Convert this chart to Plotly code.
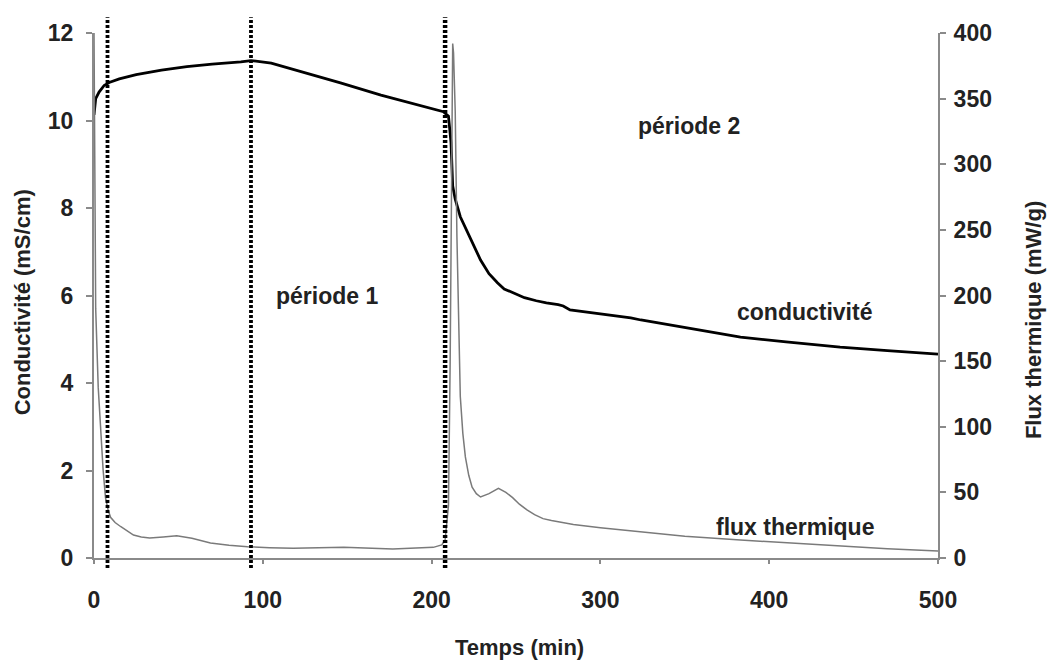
import plotly.graph_objects as go

# ---- data ----
t_cond = [0, 1, 3, 6, 9, 15, 25, 40, 55, 70, 87, 93, 105, 122, 146, 170, 193, 207,
          210, 211.5, 212.5, 214, 217, 220, 223, 226, 229, 234, 239, 243, 248, 255, 262,
          268, 275, 278, 282, 290, 300, 318, 324, 350, 383, 410, 442, 470, 500]
conductivite = [10.13, 10.5, 10.65, 10.8, 10.87, 10.95, 11.05, 11.15, 11.23, 11.29,
                11.34, 11.37, 11.31, 11.13, 10.86, 10.58, 10.35, 10.2,
                10.1, 9.5, 8.5, 8.2, 7.8, 7.55, 7.34, 7.08, 6.81, 6.5, 6.29, 6.15, 6.06,
                5.95, 5.88, 5.83, 5.79, 5.76, 5.67, 5.63, 5.58, 5.49, 5.44, 5.27, 5.05,
                4.94, 4.82, 4.74, 4.66]

t_flux = [0, 0.5, 1, 2.5, 3.8, 5.4, 6.8, 8.3, 9.8, 12.5, 15.7, 19.5, 23.4, 28, 33, 41,
          49, 58, 69, 80, 91, 104, 118, 148, 177, 201, 206, 208, 210, 211, 212, 212.5,
          213, 214, 215, 216, 217, 218.5, 220, 222, 224, 226.5, 229, 234, 239.6, 244,
          248, 252, 256.5, 261, 266, 271, 276, 284, 300, 324, 350, 383, 410, 442, 470, 501]
flux = [400, 300, 190, 130, 97.5, 67, 46, 37, 31, 27, 24, 20.5, 17.5, 16, 15.2, 16,
        17, 15, 11.4, 9.8, 8.6, 7.9, 7.4, 8.1, 6.9, 8.1, 10, 13.7, 40, 150, 330, 392,
        385, 340, 245, 170, 123, 95, 77, 63, 54, 49, 46.5, 49, 53, 50,
        46, 41, 36.6, 33, 30, 28.5, 27.4, 25.5, 23, 19.8, 16.5, 13.7, 11.5, 9.1, 7, 5.3]

x_ticks = [0, 100, 200, 300, 400, 500]
y_ticks = [0, 2, 4, 6, 8, 10, 12]
y2_ticks = [0, 50, 100, 150, 200, 250, 300, 350, 400]

vlines = [8, 93, 208]

labels_text = ["(a)", "(b)", "(c)", "période 1", "période 2", "conductivité", "flux thermique"]
labels_t = [2.7, 42.3, 151.9, 138, 352.6, 421, 415]
labels_y = [12.34, 12.34, 12.34, 5.99, 9.87, 5.63, 0.72]

FONT = "Arial, Liberation Sans, sans-serif"
TXT = "#222222"
AXC = "#8a8a8a"

fig = go.Figure()
fig.add_trace(go.Scatter(x=t_flux, y=flux, mode="lines", yaxis="y2",
                         line=dict(color="#7a7a7a", width=1.5), name="flux thermique",
                         showlegend=False))
fig.add_trace(go.Scatter(x=t_cond, y=conductivite, mode="lines", yaxis="y",
                         line=dict(color="#000000", width=2.8), name="conductivité",
                         showlegend=False))

for i, v in enumerate(vlines):
    fig.add_shape(type="line", xref="x", yref="paper", x0=v, x1=v, y0=-0.019, y1=1.03,
                  line=dict(color="black", width=4.5 if i == 2 else 3.8, dash="3px,2px"))

for txt, tx, ty in zip(labels_text, labels_t, labels_y):
    fig.add_annotation(x=tx, y=ty, xref="x", yref="y", text=txt, showarrow=False,
                       xanchor="center", yanchor="middle",
                       font=dict(family=FONT, size=23, color=TXT, weight="bold"))

# axis titles
fig.add_annotation(x=0.504, y=-0.171, xref="paper", yref="paper", text="Temps (min)",
                   showarrow=False, xanchor="center", yanchor="middle",
                   font=dict(family=FONT, size=22, color=TXT, weight="bold"))
fig.add_annotation(x=-0.0847, y=0.486, xref="paper", yref="paper",
                   text="Conductivité (mS/cm)", textangle=-90, showarrow=False,
                   xanchor="center", yanchor="middle",
                   font=dict(family=FONT, size=22, color=TXT, weight="bold"))
fig.add_annotation(x=1.1125, y=0.453, xref="paper", yref="paper",
                   text="Flux thermique (mW/g)", textangle=-90, showarrow=False,
                   xanchor="center", yanchor="middle",
                   font=dict(family=FONT, size=22, color=TXT, weight="bold"))

tickfont = dict(family=FONT, size=23, color=TXT, weight="bold")
fig.update_layout(
    width=1047, height=664,
    margin=dict(l=94, r=109, t=33, b=106),
    paper_bgcolor="white", plot_bgcolor="white",
    font=dict(family=FONT, size=22, color=TXT, weight="bold"),
    xaxis=dict(range=[0, 500], tickvals=x_ticks, showgrid=False, zeroline=False,
               showline=True, linecolor=AXC, linewidth=2, ticks="outside", ticklen=4,
               tickcolor=AXC, tickwidth=1.5, tickfont=tickfont, ticklabelstandoff=16),
    yaxis=dict(range=[0, 12], tickvals=y_ticks, showgrid=False, zeroline=False,
               showline=True, linecolor=AXC, linewidth=2, ticks="outside", ticklen=6,
               tickcolor=AXC, tickwidth=1.5, tickfont=tickfont, ticklabelstandoff=8),
    yaxis2=dict(range=[0, 400], tickvals=y2_ticks, overlaying="y", side="right",
                showgrid=False, zeroline=False, showline=True, linecolor=AXC,
                linewidth=2, ticks="outside", ticklen=6, tickcolor=AXC, tickwidth=1.5,
                tickfont=tickfont, ticklabelstandoff=3),
)

fig.write_html("out.html", config={"displayModeBar": False},
               post_script="document.body.style.margin='0px';"
                           "document.body.style.overflow='hidden';")
